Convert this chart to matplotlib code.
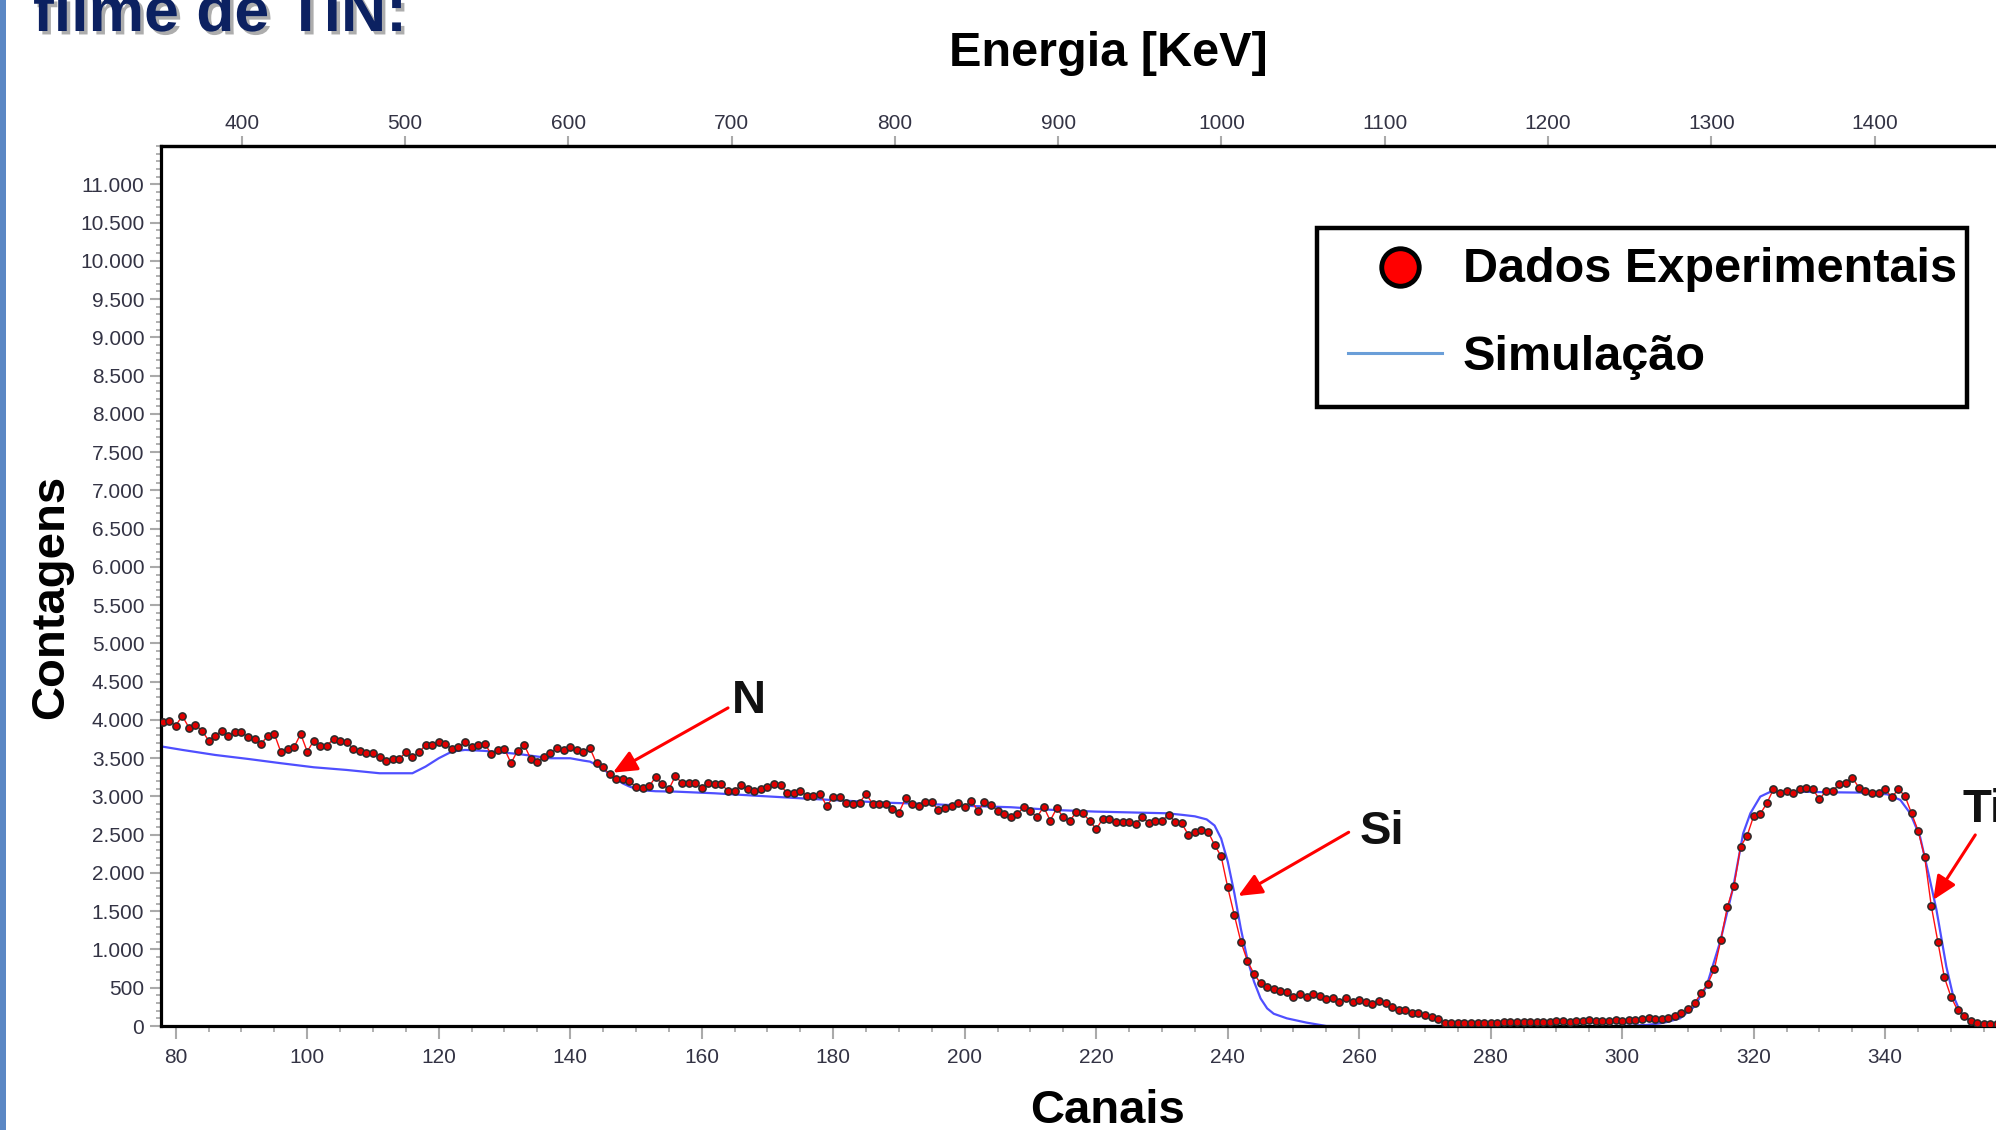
import numpy as np
import matplotlib
matplotlib.use("Agg")
import matplotlib.pyplot as plt
import matplotlib.patheffects as pe
from matplotlib.lines import Line2D
from matplotlib.patches import Rectangle
from matplotlib.ticker import MultipleLocator, FixedLocator, FuncFormatter

# RBS spectrum of a TiN film on Si: experimental counts per channel + simulation
exp_first_channel = 78
exp_counts = [
    3970, 3990,
    3926, 4052, 3900, 3935, 3860, 3730, 3795, 3860, 3795, 3840,
    3840, 3773, 3752, 3686, 3795, 3817, 3577, 3621, 3643, 3817,
    3586, 3730, 3665, 3665, 3752, 3730, 3708, 3621, 3600, 3564,
    3564, 3512, 3468, 3490, 3490, 3577, 3512, 3577, 3673, 3673,
    3708, 3686, 3621, 3643, 3708, 3643, 3673, 3686, 3556, 3608,
    3621, 3434, 3600, 3673, 3490, 3455, 3521, 3564, 3630, 3608,
    3651, 3608, 3586, 3630, 3434, 3380, 3290, 3224, 3224, 3203,
    3120, 3107, 3137, 3250, 3159, 3094, 3268, 3172, 3172, 3172,
    3115, 3181, 3159, 3159, 3072, 3072, 3150, 3094, 3072, 3103,
    3124, 3159, 3146, 3041, 3041, 3076, 3007, 3007, 3033, 2876,
    2989, 2989, 2919, 2902, 2919, 3033, 2902, 2902, 2902, 2833,
    2789, 2976, 2902, 2876, 2924, 2924, 2824, 2854, 2876, 2911,
    2867, 2946, 2811, 2924, 2889, 2811, 2771, 2728, 2767, 2867,
    2811, 2728, 2867, 2684, 2846, 2728, 2680, 2802, 2780, 2680,
    2575, 2706, 2706, 2662, 2662, 2662, 2641, 2736, 2649, 2684,
    2684, 2758, 2671, 2649, 2500, 2540, 2562, 2540, 2366, 2218,
    1813, 1451, 1102, 850, 680, 558, 506, 480, 462, 440,
    383, 418, 383, 418, 392, 349, 371, 318, 362, 318,
    340, 318, 288, 327, 296, 244, 209, 209, 174, 174,
    144, 113, 87, 44, 44, 44, 44, 35, 35, 35,
    35, 35, 48, 48, 48, 48, 48, 48, 48, 48,
    65, 65, 48, 65, 65, 78, 65, 65, 65, 78,
    65, 78, 78, 87, 100, 92, 92, 109, 131, 166,
    218, 300, 427, 549, 741, 1124, 1560, 1830, 2344, 2488,
    2745, 2772, 2911, 3094, 3041, 3072, 3041, 3094, 3115, 3094,
    2963, 3072, 3072, 3159, 3181, 3246, 3115, 3072, 3050, 3050,
    3094, 2989, 3094, 3007, 2780, 2553, 2213, 1573, 1102, 636,
    383, 209, 131, 65, 35, 22, 22, 22,
]
exp_channels = np.arange(exp_first_channel, exp_first_channel + len(exp_counts))

sim_channels = [
    77.7, 81, 86, 91, 96, 101, 106, 111, 116, 118, 120, 122, 124, 127, 132,
    135, 137, 140, 142, 143, 144, 145, 146, 147, 148, 149, 150, 151, 153, 156,
    162, 168.7, 175, 181.4, 187.8, 194.2, 200.6, 207, 213.4, 219.8, 226.2,
    230.7, 233, 235, 236.8, 238, 239, 240, 241, 242, 243, 244, 245, 246, 247,
    249, 252, 255, 300, 303.7, 305.75, 306.7, 308.8, 310.2, 310.8, 311.5,
    312.8, 314.9, 316.9, 318.4, 319.5, 321, 322.5, 326, 331.1, 336.2, 340.3,
    342.3, 343.8, 345.3, 346.8, 347.8, 349.3, 350.3, 351.4, 352.9, 355, 357, 360,
]
sim_counts = [
    3655, 3608, 3542, 3490, 3434, 3381, 3346, 3303, 3303, 3390, 3499, 3586, 3608, 3595, 3556,
    3521, 3499, 3499, 3468, 3455, 3412, 3360, 3290, 3225, 3170, 3130, 3100, 3080, 3068, 3063,
    3041, 3007, 2976, 2946, 2919, 2902, 2876, 2859, 2824, 2802, 2789,
    2780, 2760, 2740, 2700, 2620, 2450, 2150, 1740, 1270, 870, 580, 360, 230, 160,
    100, 44, 0, 0, 13, 35, 50, 100, 200, 240, 330,
    514, 1102, 1821, 2518, 2780, 2998, 3059, 3063, 3055, 3050, 3028,
    2954, 2780, 2474, 1908, 1516, 775, 405, 187, 57, 13, 4, 0,
]

channel_ticks = list(range(80, 341, 20))
energy_ticks = list(range(400, 1401, 100))
count_ticks = list(range(0, 11001, 500))

# channel -> energy calibration
KEV_PER_CHANNEL = 4.026
KEV_OFFSET = 37.6

W, H = 1996, 1130
FONT = "Liberation Sans"
TICK_COLOR = "#333344"


def ch2e(c):
    return KEV_PER_CHANNEL * np.asarray(c) + KEV_OFFSET


def e2ch(e):
    return (np.asarray(e) - KEV_OFFSET) / KEV_PER_CHANNEL


def fx(px):
    return px / W


def fy(py):
    return 1 - py / H


fig = plt.figure(figsize=(W / 100, H / 100), dpi=100)
fig.patch.set_facecolor("white")

x_left, x_right = 77.76, 360
ax_left_px = 161
ax_right_px = 175.7 + (x_right - 80) * 6.575
ax = fig.add_axes([fx(ax_left_px), fy(1026), fx(ax_right_px - ax_left_px), (1026 - 146) / H])

ax.plot(sim_channels, sim_counts, color="#3c3cff", lw=1.6, alpha=0.9, zorder=2)
ax.plot(exp_channels, exp_counts, color="#ff1010", lw=1.0, zorder=3,
        marker="o", ms=5.2, mfc="#e00000", mec="#2a2a2a", mew=1.1)

ax.set_xlim(x_left, x_right)
ax.set_ylim(0, 11500)

for side in ["left", "bottom", "top"]:
    ax.spines[side].set_linewidth(2.3)
    ax.spines[side].set_color("black")
ax.spines["right"].set_visible(False)

ax.xaxis.set_major_locator(FixedLocator(channel_ticks))
ax.xaxis.set_minor_locator(MultipleLocator(5))
ax.yaxis.set_major_locator(FixedLocator(count_ticks))
ax.yaxis.set_minor_locator(MultipleLocator(100))
ax.yaxis.set_major_formatter(FuncFormatter(lambda v, p: f"{int(v):,}".replace(",", ".")))

ax.tick_params(axis="x", which="major", direction="out", length=9, width=1.5,
               color="#aaaaaa", pad=7, labelsize=15, labelcolor=TICK_COLOR)
ax.tick_params(axis="x", which="minor", direction="out", length=4.5, width=1.3, color="#aaaaaa")
ax.tick_params(axis="y", which="major", direction="out", length=8, width=1.5,
               color="#aaaaaa", pad=4, labelsize=15, labelcolor=TICK_COLOR)
ax.tick_params(axis="y", which="minor", direction="out", length=3.5, width=1.3, color="#aaaaaa")
for lab in ax.get_xticklabels() + ax.get_yticklabels():
    lab.set_fontfamily(FONT)

top = ax.secondary_xaxis("top", functions=(ch2e, e2ch))
top.xaxis.set_major_locator(FixedLocator(energy_ticks))
top.tick_params(axis="x", which="major", direction="out", length=7, width=1.5,
                color="#aaaaaa", pad=2, labelsize=15, labelcolor=TICK_COLOR)
top.tick_params(axis="x", which="minor", length=0)
top.spines["top"].set_linewidth(2.3)
for lab in top.get_xticklabels():
    lab.set_fontfamily(FONT)

# element edge annotations
arrow_kw = dict(arrowstyle="-|>,head_length=0.9,head_width=0.4", color="red",
                lw=2.2, shrinkA=0, shrinkB=0, mutation_scale=16)
ax.annotate("", xy=(146.5, 3311), xytext=(164.0, 4157), arrowprops=arrow_kw)
ax.annotate("", xy=(241.6, 1699), xytext=(258.4, 2532), arrowprops=arrow_kw)
ax.annotate("", xy=(347.3, 1647), xytext=(353.7, 2497), arrowprops=arrow_kw)
label_kw = dict(fontsize=34, fontweight="bold", family=FONT, color="#111111")
ax.text(167.2, 4248, "N", ha="center", va="center", **label_kw)
ax.text(263.5, 2536, "Si", ha="center", va="center", **label_kw)
ax.text(351.7, 2824, "Ti", ha="left", va="center", **label_kw)

# axis titles
fig.text(fx(1108), fy(54), "Energia [KeV]", ha="center", va="center",
         fontsize=35, fontweight="bold", family=FONT)
fig.text(fx(1108), fy(1123), "Canais", ha="center", va="baseline",
         fontsize=34, fontweight="bold", family=FONT)
fig.text(fx(51), fy(597), "Contagens", ha="center", va="center", rotation=90,
         fontsize=34, fontweight="bold", family=FONT)

# slide title fragment + left border
fig.text(fx(33), fy(31), "filme de TiN:", ha="left", va="baseline",
         fontsize=45, fontweight="bold", family=FONT, color="#0c2161",
         path_effects=[pe.SimplePatchShadow(offset=(2.5, -2.5), shadow_rgbFace="#777777", alpha=0.6),
                       pe.Normal()])
fig.add_artist(Rectangle((0, 0), fx(6), 1, transform=fig.transFigure,
                         facecolor="#5a87c4", edgecolor="none"))

# legend box
fig.add_artist(Rectangle((fx(1317), fy(407)), fx(650), 179 / H, transform=fig.transFigure,
                         facecolor="white", edgecolor="black", lw=3.2, zorder=5))
fig.add_artist(Line2D([fx(1400)], [fy(267)], transform=fig.transFigure, marker="o",
                      ms=27, mfc="#ff0000", mec="black", mew=3.5, zorder=6))
fig.add_artist(Line2D([fx(1348), fx(1442)], [fy(353), fy(353)], transform=fig.transFigure,
                      color="#6a9ed8", lw=2.2, zorder=6))
fig.text(fx(1463), fy(270), "Dados Experimentais", ha="left", va="center",
         fontsize=35, fontweight="bold", family=FONT, zorder=7)
fig.text(fx(1463), fy(358), "Simulação", ha="left", va="center",
         fontsize=35, fontweight="bold", family=FONT, zorder=7)

fig.savefig("out.png", dpi=100)
